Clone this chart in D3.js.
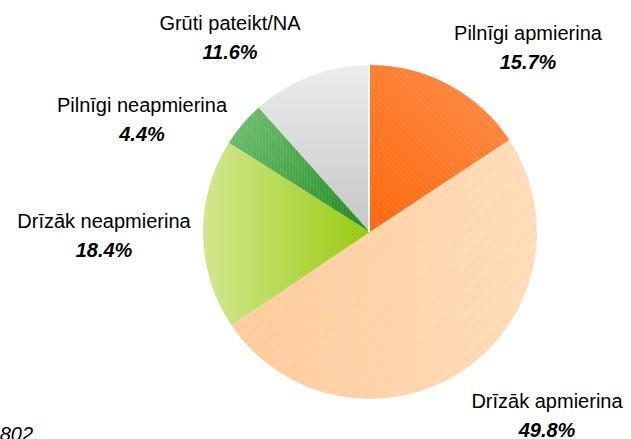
<!DOCTYPE html>
<html>
<head>
<meta charset="utf-8">
<script src="https://cdn.jsdelivr.net/npm/d3@7"></script>
<style>
  body { margin: 0; background: #fff; }
  text { font-family: Arial, "Liberation Sans", sans-serif; fill: #000; }
</style>
</head>
<body>
<svg id="chart" width="631" height="439"></svg>
<script>
// data
const categories = ["Pilnīgi apmierina", "Drīzāk apmierina", "Drīzāk neapmierina", "Pilnīgi neapmierina", "Grūti pateikt/NA"];
const shares = [15.7, 49.8, 18.4, 4.4, 11.6];
const sampleNote = "n=802";

const width = 631, height = 439;
const cx = 370, cy = 232, radius = 167;

// where each label block sits (centre x, baseline of first line)
const labelAnchor = [
  [528, 40],
  [547, 408],
  [104, 228],
  [142, 112],
  [230, 30]
];

const svg = d3.select("#chart");
const defs = svg.append("defs");

// gradients are given in the pie group's own space (centre = 0,0)
const grad = (id, x1, y1, x2, y2, c1, c2) => {
  const lg = defs.append("linearGradient").attr("id", id)
    .attr("gradientUnits", "userSpaceOnUse")
    .attr("x1", x1).attr("y1", y1).attr("x2", x2).attr("y2", y2);
  lg.append("stop").attr("offset", 0).attr("stop-color", c1);
  lg.append("stop").attr("offset", 1).attr("stop-color", c2);
};
grad("gOrange", 0, 0, 150, -170, "#ff6608", "#ff8f4c");
grad("gPeach", -150, 0, 160, 0, "#ffca98", "#ffdcb8");
grad("gLime", -radius, 0, 0, 0, "#d3e790", "#98cb10");
grad("gDark", 0, 0, -130, -115, "#1f8a1f", "#6cbd6c");
grad("gGray", 0, -radius, 0, 0, "#ececec", "#c6c6c6");

// hatch patterns
const hatch = (id, size, angle, stroke, opacity, w) => {
  const p = defs.append("pattern").attr("id", id)
    .attr("patternUnits", "userSpaceOnUse")
    .attr("width", size).attr("height", size)
    .attr("patternTransform", `rotate(${angle})`);
  p.append("line").attr("x1", 0).attr("y1", 0).attr("x2", 0).attr("y2", size)
    .attr("stroke", stroke).attr("stroke-opacity", opacity).attr("stroke-width", w);
};
hatch("hOrange", 4, -45, "#fff", 0.22, 1);
hatch("hPeach", 9, 45, "#fff", 0.5, 0.8);
hatch("hDark", 3, 0, "#fff", 0.15, 1);
hatch("hDark2", 14, -40, "#fff", 0.12, 1.2);

const fills = ["url(#gOrange)", "url(#gPeach)", "url(#gLime)", "url(#gDark)", "url(#gGray)"];
const overlays = [["url(#hOrange)"], ["url(#hPeach)"], [], ["url(#hDark)", "url(#hDark2)"], []];

const pie = d3.pie().sort(null).value(d => d)(shares);
const arc = d3.arc().innerRadius(0).outerRadius(radius);

const g = svg.append("g").attr("transform", `translate(${cx},${cy})`);

pie.forEach((d, i) => {
  g.append("path").attr("d", arc(d)).attr("fill", fills[i]);
  overlays[i].forEach(o => {
    g.append("path").attr("d", arc(d)).attr("fill", o);
  });
});

// small gap between the grey slice and the orange one
g.append("line")
  .attr("x1", -1).attr("y1", 0).attr("x2", -1).attr("y2", -radius - 1)
  .attr("stroke", "#fff").attr("stroke-width", 2);

const fmt = d3.format(".1f");

categories.forEach((c, i) => {
  const [x, y] = labelAnchor[i];
  svg.append("text")
    .attr("x", x).attr("y", y)
    .attr("text-anchor", "middle")
    .attr("font-size", 20)
    .text(c);
  svg.append("text")
    .attr("x", x).attr("y", y + 29)
    .attr("text-anchor", "middle")
    .attr("font-size", 20)
    .attr("font-weight", "bold")
    .attr("font-style", "italic")
    .text(fmt(shares[i]) + "%");
});

svg.append("text")
  .attr("x", 33).attr("y", 441)
  .attr("text-anchor", "end")
  .attr("font-size", 20)
  .attr("font-style", "italic")
  .text(sampleNote);
</script>
</body>
</html>
